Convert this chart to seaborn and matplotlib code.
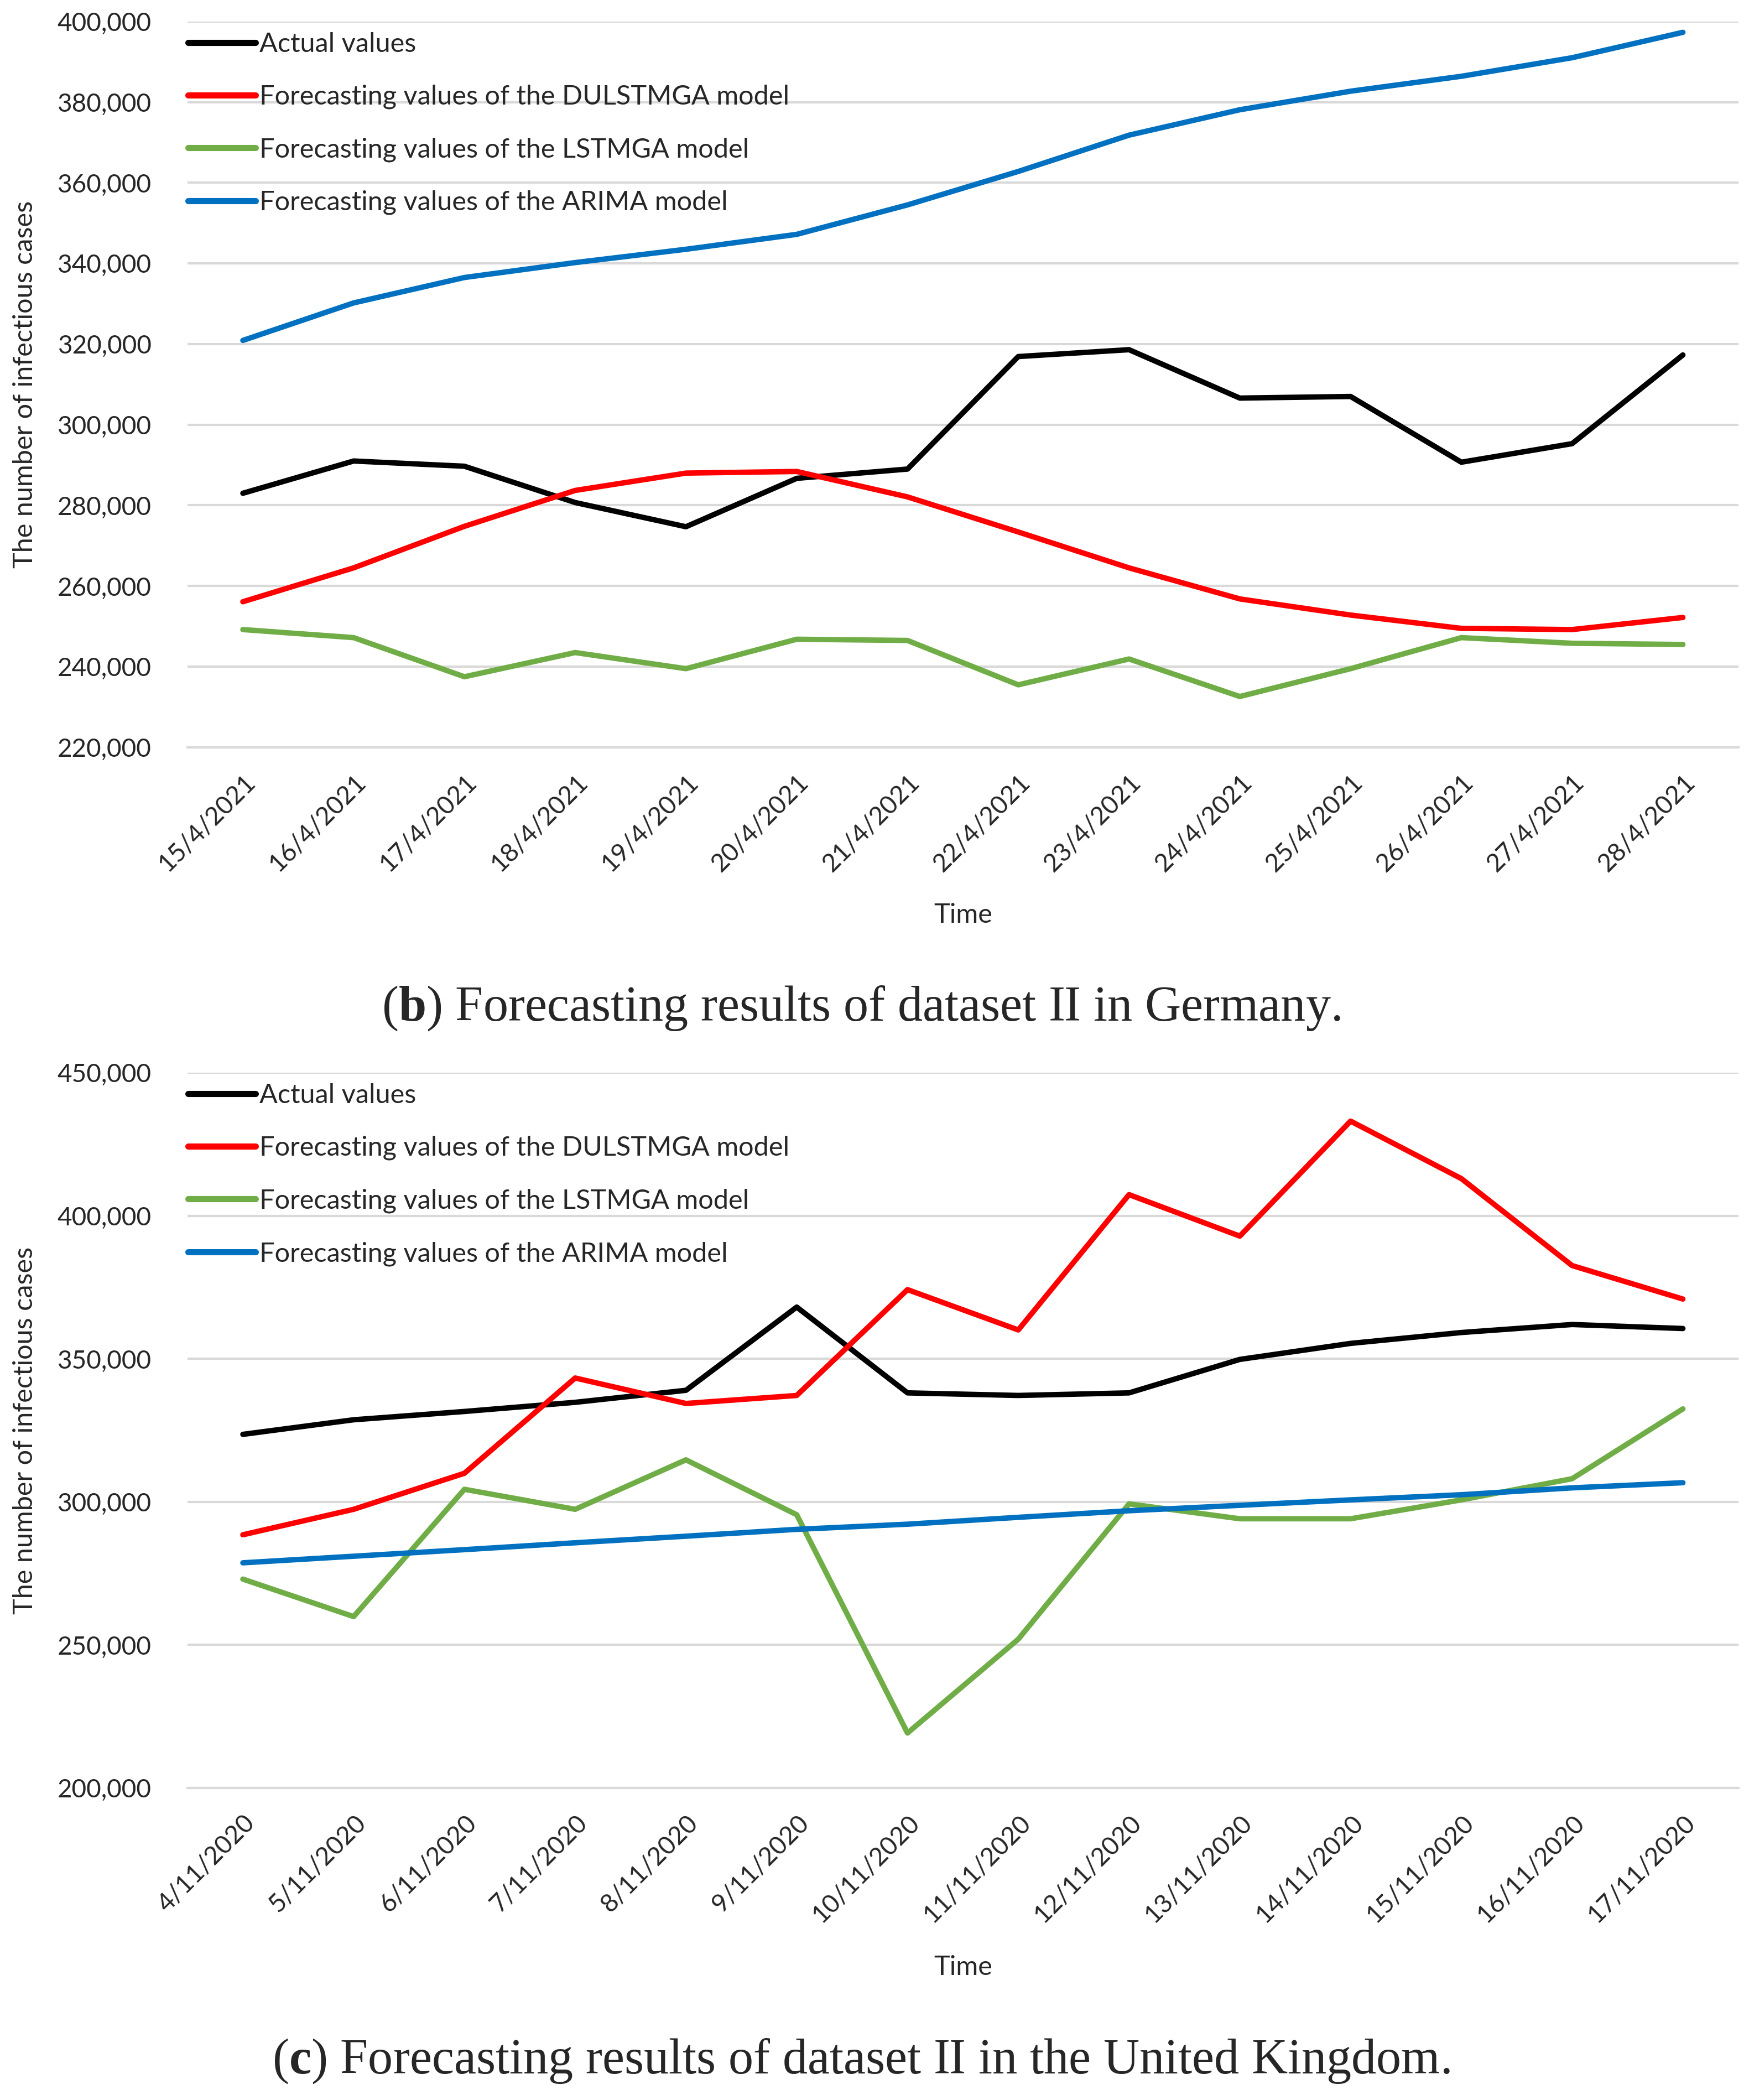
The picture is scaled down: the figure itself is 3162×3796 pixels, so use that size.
import matplotlib
matplotlib.use("Agg")
import matplotlib.pyplot as plt
import matplotlib.ticker as mticker
import numpy as np
import pandas as pd
import seaborn as sns

# ---- data: Germany (dataset II) ----
dates_de = ["15/4/2021", "16/4/2021", "17/4/2021", "18/4/2021", "19/4/2021",
            "20/4/2021", "21/4/2021", "22/4/2021", "23/4/2021", "24/4/2021",
            "25/4/2021", "26/4/2021", "27/4/2021", "28/4/2021"]
actual_de = [283000, 291000, 289700, 280700, 274700, 286700, 289000,
             316900, 318600, 306600, 307000, 290700, 295300, 317300]
dulstmga_de = [256100, 264500, 274800, 283700, 288000, 288400, 282100,
               273400, 264500, 256800, 252800, 249500, 249200, 252200]
lstmga_de = [249200, 247200, 237500, 243500, 239500, 246800, 246500,
             235500, 241900, 232600, 239500, 247200, 245800, 245500]
arima_de = [320900, 330200, 336500, 340200, 343500, 347200, 354500,
            362800, 371800, 378100, 382700, 386400, 391000, 397300]

# ---- data: United Kingdom (dataset II) ----
dates_uk = ["4/11/2020", "5/11/2020", "6/11/2020", "7/11/2020", "8/11/2020",
            "9/11/2020", "10/11/2020", "11/11/2020", "12/11/2020", "13/11/2020",
            "14/11/2020", "15/11/2020", "16/11/2020", "17/11/2020"]
actual_uk = [323600, 328700, 331600, 334800, 339000, 368100, 338100,
             337200, 338100, 349800, 355400, 359200, 362000, 360600]
dulstmga_uk = [288500, 297400, 310000, 343300, 334400, 337200, 374200,
               360100, 407400, 392900, 433100, 413000, 382600, 370900]
lstmga_uk = [273000, 259900, 304400, 297400, 314700, 295500, 219200,
             252000, 299300, 294100, 294100, 300700, 308100, 332500]
arima_uk = [278700, 281000, 283300, 285700, 288000, 290400, 292200,
            294600, 296900, 298800, 300700, 302500, 304900, 306700]

series_names = ["Actual values",
                "Forecasting values of the DULSTMGA model",
                "Forecasting values of the LSTMGA model",
                "Forecasting values of the ARIMA model"]
paleta = ["#000000", "#FF0000", "#70AD47", "#0070C0"]

sns.set_theme(style="white")
plt.rcParams["font.family"] = ["Lato", "DejaVu Sans"]
plt.rcParams["mathtext.fontset"] = "custom"
plt.rcParams["mathtext.rm"] = "Liberation Serif"
plt.rcParams["mathtext.bf"] = "Liberation Serif:bold"

W, H = 3162, 3796
fig = plt.figure(figsize=(W / 100, H / 100), dpi=100)

L, R = 140 / 1306, 1298 / 1306
ax1 = fig.add_axes([L, 1 - 558 / 1568, R - L, (558 - 16) / 1568])
ax2 = fig.add_axes([L, 1 - 1335 / 1568, R - L, (1335 - 801) / 1568])


def long_df(dates, cols):
    rows = []
    for name, vals in zip(series_names, cols):
        for d, v in zip(dates, vals):
            rows.append({"Time": d, "Cases": v, "Series": name})
    return pd.DataFrame(rows)


def draw(ax, dates, cols, ylim, ystep, xlabel_y):
    df = long_df(dates, cols)
    sns.lineplot(data=df, x="Time", y="Cases", hue="Series",
                 hue_order=series_names, palette=paleta, sort=False,
                 linewidth=7, ax=ax, errorbar=None)
    ax.set_xlim(-0.5, len(dates) - 0.5)
    ax.set_ylim(*ylim)
    ax.set_yticks(np.arange(ylim[0], ylim[1] + 1, ystep))
    ax.yaxis.set_major_formatter(mticker.FuncFormatter(lambda v, p: f"{int(v):,}"))
    ax.set_xticks(range(len(dates)))
    ax.set_xticklabels(dates, rotation=45, ha="right", va="top",
                       rotation_mode="anchor")
    ax.set_xticks(np.arange(-0.5, len(dates), 1), minor=True)
    ax.tick_params(axis="x", which="major", length=0, pad=30, labelsize=33)
    ax.tick_params(axis="x", which="minor", length=12, width=2, color="#d9d9d9")
    ax.tick_params(axis="y", length=0, pad=47, labelsize=33)
    ax.yaxis.grid(True, color="#d9d9d9", linewidth=3)
    for s in ["top", "right", "left"]:
        ax.spines[s].set_visible(False)
    ax.spines["bottom"].set_color("#d9d9d9")
    ax.spines["bottom"].set_linewidth(3)
    ax.set_xlabel("Time", fontsize=35)
    ax.xaxis.set_label_coords(0.5, xlabel_y)
    ax.set_ylabel("The number of infectious cases", fontsize=35)
    ax.yaxis.set_label_coords(-0.097, 0.5)
    leg = ax.legend(loc="upper left", bbox_to_anchor=(-0.003, 0.993), frameon=False,
                    fontsize=35, handlelength=2.5, handletextpad=0.15,
                    borderaxespad=0, borderpad=0.2, labelspacing=1.05)
    for line in leg.get_lines():
        line.set_linewidth(8)


draw(ax1, dates_de, [actual_de, dulstmga_de, lstmga_de, arima_de],
     (220000, 400000), 20000, -0.214)
draw(ax2, dates_uk, [actual_uk, dulstmga_uk, lstmga_uk, arima_uk],
     (200000, 450000), 50000, -0.234)

fig.text(0.4925, 1 - 753 / 1568,
         r"($\mathbf{b}$) Forecasting results of dataset II in Germany.",
         ha="center", va="center", fontsize=65, family="Liberation Serif")
fig.text(0.4925, 1 - 1539 / 1568,
         r"($\mathbf{c}$) Forecasting results of dataset II in the United Kingdom.",
         ha="center", va="center", fontsize=65, family="Liberation Serif")

fig.savefig("out.png", dpi=100)
